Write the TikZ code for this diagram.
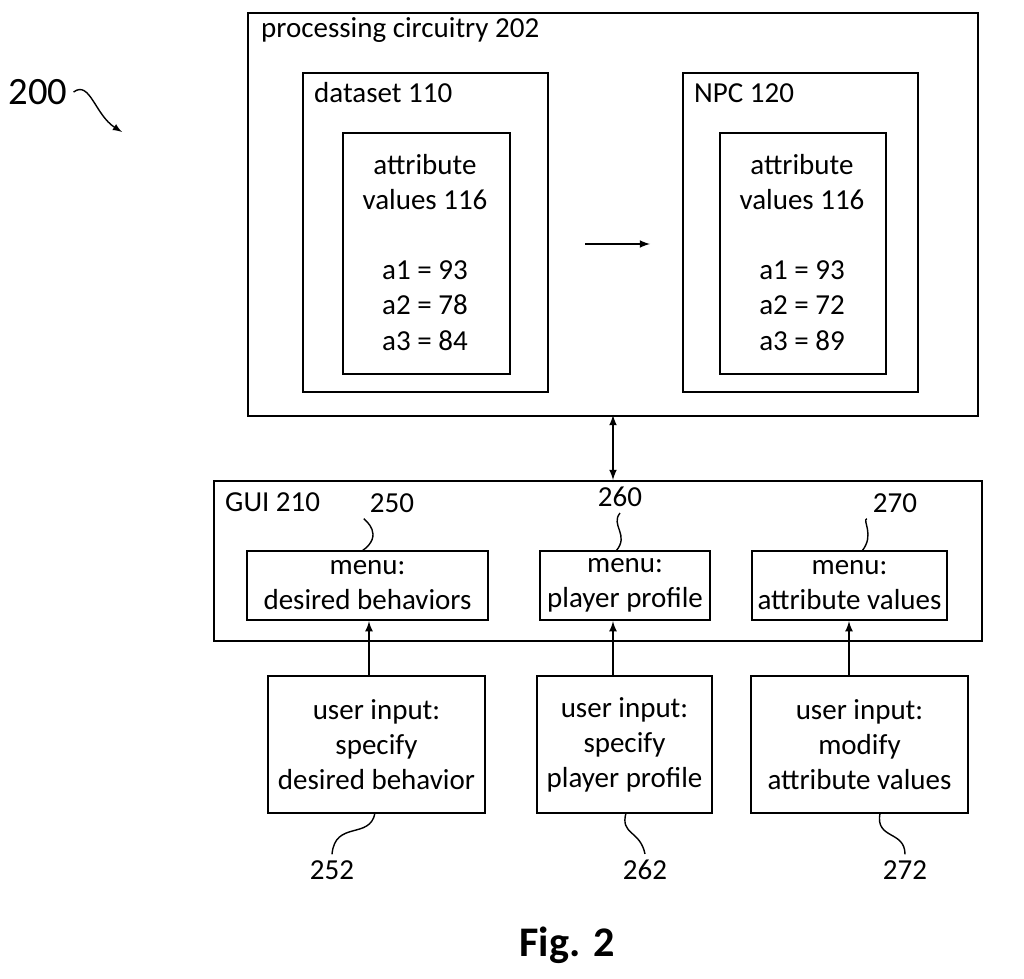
\documentclass[tikz,border=0pt]{standalone}
\usepackage{fontspec}
\setmainfont{Carlito}
\begin{document}
\begin{tikzpicture}[x=0.02cm,y=-0.02cm,
 box/.style={draw,line width=1.3pt},
 txt/.style={font=\fontsize{16.5}{20}\selectfont,align=center},
 lab/.style={font=\fontsize{16.5}{20}\selectfont,anchor=west},
 arr/.style={-latex,line width=1pt}]
\useasboundingbox (0,0) rectangle (1024,979);
\node[box,minimum width=730*0.02cm,minimum height=403*0.02cm,anchor=north west] (pc) at (247,12) {};
\node[lab] (pcl) at (255,30) {processing circuitry 202};
\node[box,minimum width=245*0.02cm,minimum height=319*0.02cm,anchor=north west] (ds) at (302,72) {};
\node[lab] (dsl) at (308,93) {dataset 110};
\node[box,minimum width=167*0.02cm,minimum height=241*0.02cm,anchor=north west] (av1) at (342,132) {};
\node[txt,anchor=north] (t1) at (425,148) {attribute\\values 116\\\mbox{}\\a1 = 93\\a2 = 78\\a3 = 84};
\node[box,minimum width=235*0.02cm,minimum height=319*0.02cm,anchor=north west] (npc) at (682,72) {};
\node[lab] (npcl) at (688,93) {NPC 120};
\node[box,minimum width=166*0.02cm,minimum height=241*0.02cm,anchor=north west] (av2) at (719,132) {};
\node[txt,anchor=north] (t2) at (802,148) {attribute\\values 116\\\mbox{}\\a1 = 93\\a2 = 72\\a3 = 89};
\coordinate (a1) at (585,244); \coordinate (a2) at (650,244);
\draw[arr] (a1) -- (a2);
\node[box,minimum width=768*0.02cm,minimum height=160*0.02cm,anchor=north west] (gui) at (213,480) {};
\node[lab] (guil) at (219,502) {GUI 210};
\draw[latex-latex,line width=1pt] (613,415) -- (613,480);
\node[box,txt,minimum width=241*0.02cm,minimum height=69*0.02cm] (m1) at (367.5,585.5) {menu:\\desired behaviors};
\node[box,txt,minimum width=170*0.02cm,minimum height=69*0.02cm] (m2) at (625,585.5) {menu:\\player profile};
\node[box,txt,minimum width=191*0.02cm,minimum height=69*0.02cm] (m3) at (849.5,585.5) {menu:\\attribute values};
\node[txt] (n250) at (392,503) {250};
\node[txt] (n260) at (620,497) {260};
\node[txt] (n270) at (895,503) {270};
\draw[line width=0.8pt] (n250.south west) .. controls (365,520) and (385,535) .. (362,551);
\draw[line width=0.8pt] (n260.south) .. controls (610,525) and (630,535) .. (616,551);
\draw[line width=0.8pt] (n270.south west) .. controls (862,520) and (875,535) .. (862,551);
\node[box,txt,minimum width=217*0.02cm,minimum height=137*0.02cm] (u1) at (376.5,744.5) {user input:\\specify\\desired behavior};
\node[box,txt,minimum width=175*0.02cm,minimum height=137*0.02cm] (u2) at (624.5,744.5) {user input:\\specify\\player profile};
\node[box,txt,minimum width=217*0.02cm,minimum height=137*0.02cm] (u3) at (859.5,744.5) {user input:\\modify\\attribute values};
\draw[arr] (u1.north -| 369,0) -- (m1.south -| 369,0);
\draw[arr] (u2.north -| 613,0) -- (m2.south -| 613,0);
\draw[arr] (u3.north -| 849,0) -- (m3.south -| 849,0);
\node[txt] (n252) at (332,870) {252};
\node[txt] (n262) at (645,870) {262};
\node[txt] (n272) at (905,870) {272};
\draw[line width=0.8pt] (375,813) .. controls (370,840) and (335,820) .. (n252.north);
\draw[line width=0.8pt] (626,813) .. controls (620,835) and (640,830) .. (n262.north);
\draw[line width=0.8pt] (880,813) .. controls (875,840) and (905,830) .. (n272.north);
\node[font=\fontsize{22}{26}\selectfont] (n200) at (38,92) {200};
\coordinate (e200) at (122,132);
\draw[-latex,line width=0.8pt] (n200.east) .. controls (90,80) and (95,115) .. (e200);
\node[font=\bfseries\fontsize{24}{28}\selectfont] (fig) at (567,945) {Fig. 2};
\end{tikzpicture}
\end{document}
